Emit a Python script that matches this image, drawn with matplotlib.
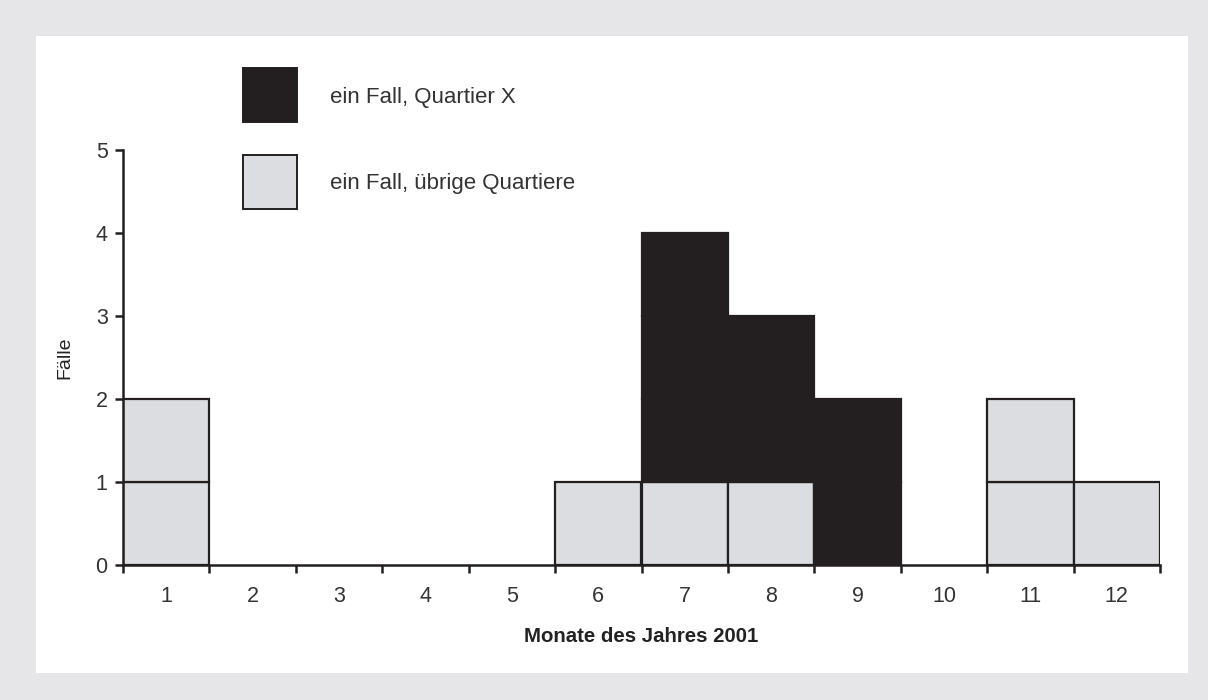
import numpy as np
import matplotlib.pyplot as plt
from matplotlib.patches import Rectangle

plt.rcParams['font.family'] = ['Liberation Sans', 'DejaVu Sans']

months = list(range(1, 13))
uebrige = [2, 0, 0, 0, 0, 1, 1, 1, 0, 0, 2, 1]   # ein Fall, übrige Quartiere
quartier_x = [0, 0, 0, 0, 0, 0, 3, 2, 2, 0, 0, 0]  # ein Fall, Quartier X
legend_labels = ["ein Fall, Quartier X", "ein Fall, übrige Quartiere"]

dark = '#231f20'
light = '#dcdde0'

W, H = 1208, 700
fig = plt.figure(figsize=(W / 100, H / 100), dpi=100)
fig.patch.set_facecolor('#e6e6e8')
fig.add_artist(Rectangle((36 / W, 1 - 673 / H), (1188 - 36) / W, (673 - 36) / H,
                         transform=fig.transFigure, facecolor='white', edgecolor='none', zorder=0))

ax = fig.add_axes([123 / W, 1 - 565 / H, (1160 - 123) / W, (565 - 150) / H])
ax.patch.set_alpha(0)

# eine Zelle pro Fall
for m, nl, nd in zip(months, uebrige, quartier_x):
    for k in range(nl):
        ax.bar(m, 1, bottom=k, width=1, color=light, edgecolor=dark, linewidth=1.6, zorder=2)
    for k in range(nd):
        ax.bar(m, 1, bottom=nl + k, width=1, color=dark, edgecolor=dark, linewidth=1.6, zorder=2)

ax.set_xlim(0.5, 12.5)
ax.set_ylim(0, 5)

for s in ['top', 'right']:
    ax.spines[s].set_visible(False)
for s in ['left', 'bottom']:
    ax.spines[s].set_linewidth(1.8)
    ax.spines[s].set_color(dark)
    ax.spines[s].set_zorder(3)

ax.set_yticks(range(0, 6))
ax.tick_params(axis='y', length=6, width=1.8, color=dark, labelsize=15.5, labelcolor='#333333', pad=5)

ax.set_xticks(np.arange(0.5, 13, 1))
ax.set_xticklabels([])
ax.set_xticks(months, minor=True)
ax.set_xticklabels([str(m) for m in months], minor=True)
ax.tick_params(axis='x', which='major', length=6, width=1.8, color=dark)
ax.tick_params(axis='x', which='minor', length=0, labelsize=15.5, labelcolor='#333333', pad=15)

ax.set_xlabel("Monate des Jahres 2001", fontsize=14.7, fontweight='bold', color='#222222', va='center')
ax.xaxis.set_label_coords(0.5, (565 - 637) / 415)
ax.set_ylabel("Fälle", fontsize=14, color='#222222', va='center')
ax.yaxis.set_label_coords((65 - 123) / 1037, 0.5)

# Legende
for (y0, fc), lab in zip([(68, dark), (155, light)], legend_labels):
    fig.add_artist(Rectangle((243 / W, 1 - (y0 + 54) / H), 54 / W, 54 / H, transform=fig.transFigure,
                             facecolor=fc, edgecolor=dark, linewidth=1.4))
    fig.text(330 / W, 1 - (y0 + 29) / H, lab, fontsize=16, color='#333333', va='center', ha='left')

fig.savefig('out.png', dpi=100, facecolor=fig.get_facecolor())
